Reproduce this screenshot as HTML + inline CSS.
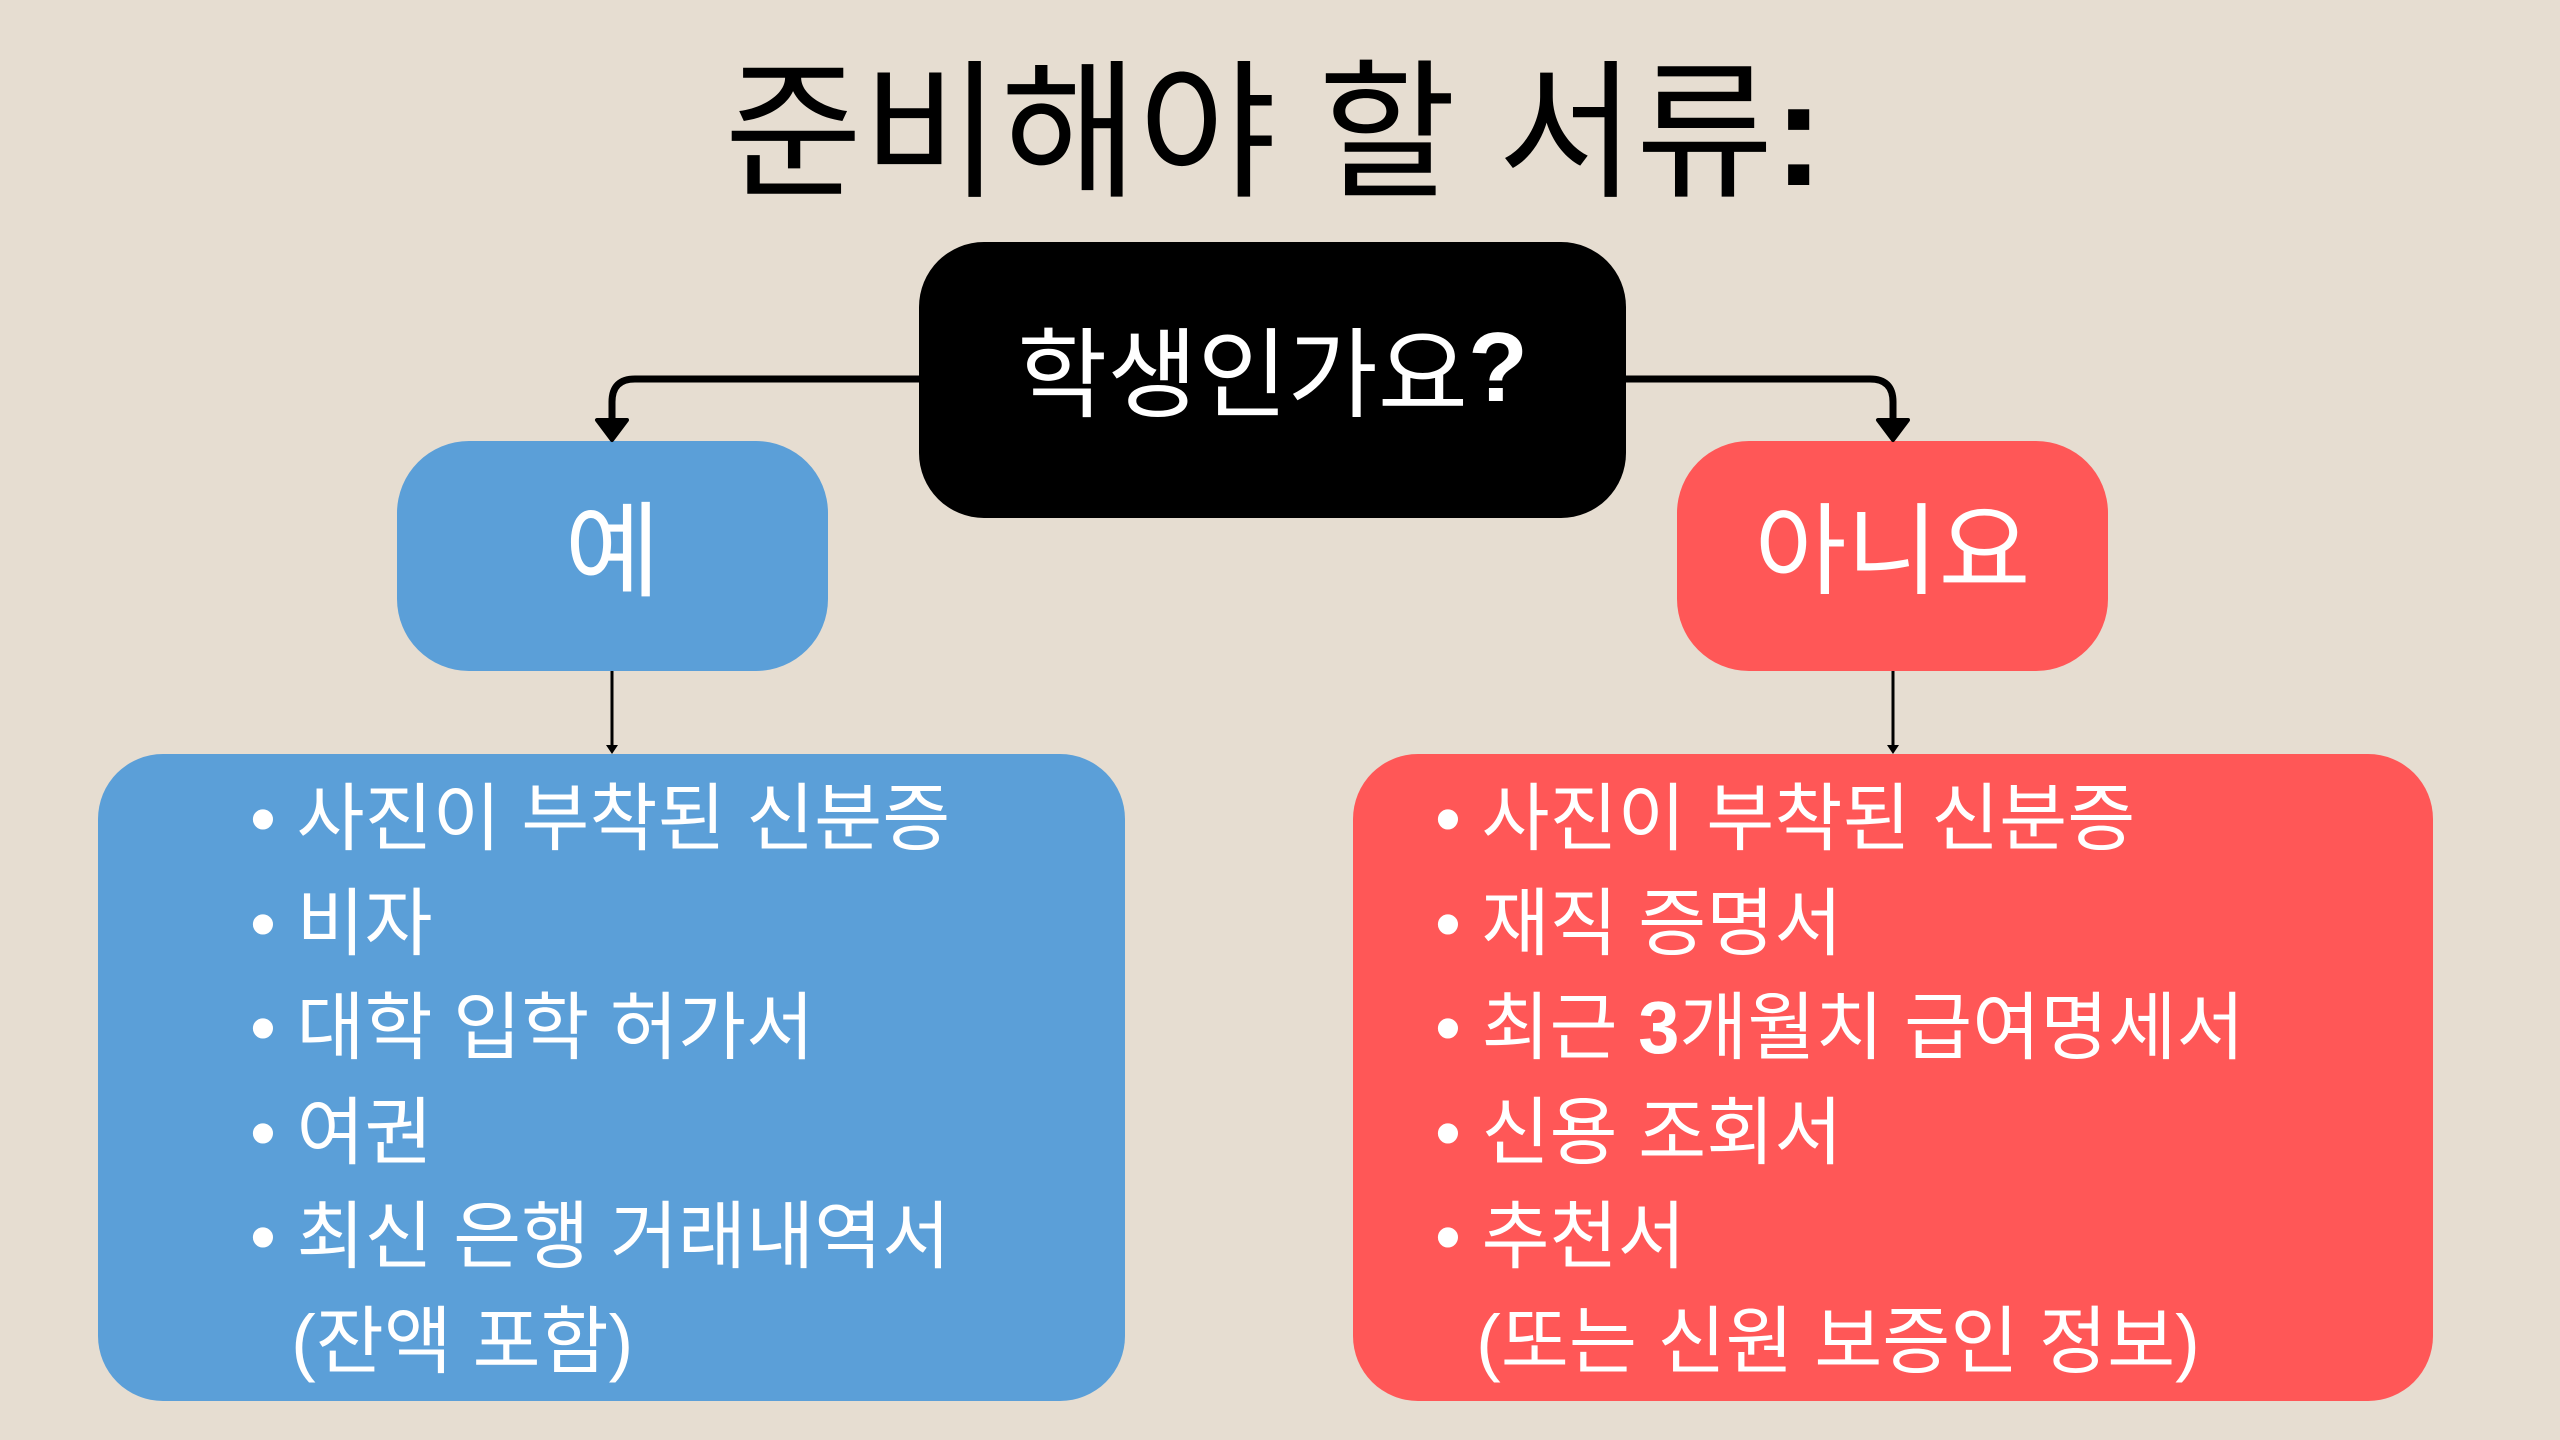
<!DOCTYPE html>
<html><head><meta charset="utf-8"><style>
body{margin:0;width:2560px;height:1440px;background:#e6ddd1;position:relative;overflow:hidden;font-family:"Liberation Sans","Noto Sans CJK KR",sans-serif}
.a{position:absolute}
.box{position:absolute;display:flex;align-items:center;justify-content:center;color:#fff}
.t{position:absolute;white-space:nowrap;line-height:1;color:#fff;font-size:74px}
</style></head><body>
<div class="t" style="left:0;width:2548px;text-align:center;top:58px;font-size:150px;color:#000;font-weight:400">준비해야 할 서류<b>:</b></div>
<div class="box" style="left:919px;top:242px;width:707px;height:276px;background:#000;border-radius:65px;font-size:98px;padding-bottom:26px;box-sizing:border-box">학생인가요<b>?</b></div>
<div class="box" style="left:397px;top:441px;width:431px;height:230px;background:#5b9fd8;border-radius:72px;font-size:104px;padding-bottom:28px;box-sizing:border-box">예</div>
<div class="box" style="left:1677px;top:441px;width:431px;height:230px;background:#ff5757;border-radius:72px;font-size:100px;padding-bottom:28px;box-sizing:border-box">아니요</div>
<div class="a" style="left:98px;top:754px;width:1027px;height:647px;background:#5b9fd8;border-radius:65px"></div>
<div class="a" style="left:1353px;top:754px;width:1080px;height:647px;background:#ff5757;border-radius:65px"></div>
<svg class="a" style="left:0;top:0" width="2560" height="1440">
<g fill="none" stroke="#000" stroke-width="7">
<path d="M919 379 H635 Q612 379 612 402 V425"/>
<path d="M1626 379 H1870 Q1893 379 1893 402 V425"/>
</g>
<path d="M597 420 L627 420 L612 440 Z M1878 420 L1908 420 L1893 440 Z" fill="#000" stroke="#000" stroke-width="4" stroke-linejoin="round"/>
<g stroke="#000" stroke-width="3"><path d="M612 671 V748 M1893 671 V748"/></g>
<path d="M606 745 L618 745 L612 754 Z M1887 745 L1899 745 L1893 754 Z" fill="#000"/>
</svg>
<div class="t" style="left:250px;top:767px;line-height:104.5px">• 사진이 부착된 신분증<br>• 비자<br>• 대학 입학 허가서<br>• 여권<br>• 최신 은행 거래내역서<br>&nbsp;&nbsp;(잔액 포함)</div>
<div class="t" style="left:1435px;top:767px;line-height:104.5px">• 사진이 부착된 신분증<br>• 재직 증명서<br>• 최근 <b>3</b>개월치 급여명세서<br>• 신용 조회서<br>• 추천서<br>&nbsp;&nbsp;(또는 신원 보증인 정보)</div>
</body></html>
